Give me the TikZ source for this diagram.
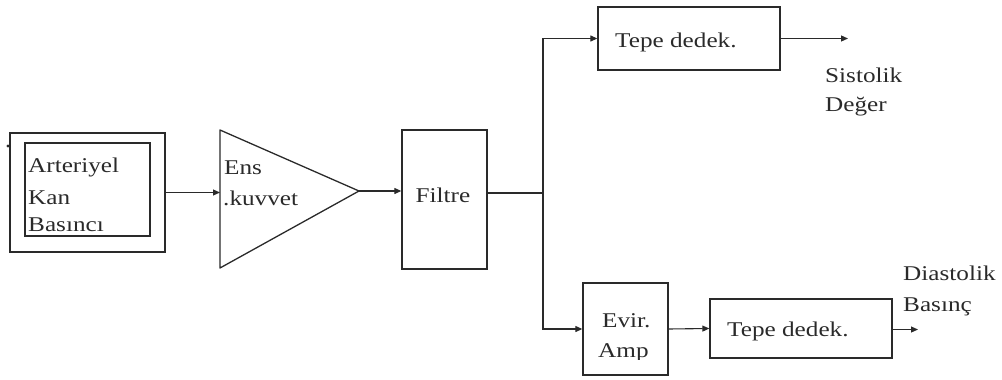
\documentclass[tikz,border=0pt]{standalone}
\usepackage{fontspec}
\setmainfont[FakeStretch=1.2]{Liberation Serif}
\usetikzlibrary{arrows.meta}
\definecolor{ink}{HTML}{2A2A2A}
\begin{document}
\begin{tikzpicture}[x=1pt,y=-1pt,
  blk/.style={draw=ink,line width=1.3pt,inner sep=0pt,rectangle},
  lbl/.style={anchor=base west,inner sep=0pt,text=ink,font=\fontsize{21}{32}\selectfont},
  wire/.style={draw=ink,line width=1.1pt},
  arr/.style={wire,-{Triangle[length=7pt,width=6pt]}}]
\useasboundingbox (0,0) rectangle (1002,380);

% input block: pressure source
\node[blk,minimum width=155pt,minimum height=119pt] (outer) at (87.5,192.5) {};
\node[blk,minimum width=125pt,minimum height=93pt] (inner) at (87.5,189.5) {};
\fill[ink] (8,146) circle (1.6pt);
\node[lbl] (t1) at (28,172) {Arteriyel};
\node[lbl] (t2) at (28,204) {Kan};
\begin{scope}
  \clip (25,143) rectangle (150,233);
  \node[lbl] (t3) at (28,231) {Basıncı};
\end{scope}

% instrumentation amplifier
\coordinate (ampin) at (220,192.5);
\coordinate (amptop) at (220,130);
\coordinate (ampbot) at (220,268);
\coordinate (amptip) at (359,191);
\draw[ink,line width=1.3pt,line join=round] (amptop) -- (amptip) -- (ampbot) -- cycle;
\node[lbl] (t4) at (224,174) {Ens};
\node[lbl] (t5) at (223,205) {.kuvvet};

% filter
\node[blk,minimum width=85pt,minimum height=139pt] (filt) at (444.5,199.5) {};
\node[lbl,anchor=base] (t6) at (443,202) {Filtre};

% upper branch: peak detector
\node[blk,minimum width=182pt,minimum height=63pt] (pk1) at (689,38.5) {};
\node[lbl] (t7) at (615,47) {Tepe dedek.};
\coordinate (out1) at (848,38.5);
\node[lbl] (t8) at (825,82) {Sistolik};
\node[lbl] (t9) at (825,111) {Değer};

% lower branch: inverting amplifier and peak detector
\node[blk,minimum width=85pt,minimum height=92pt] (inv) at (625.5,329) {};
\node[lbl] (t10) at (602,327) {Evir.};
\begin{scope}
  \clip (583,283) rectangle (668,359);
  \node[lbl] (t11) at (598,357) {Amp};
\end{scope}
\node[blk,minimum width=182pt,minimum height=59pt] (pk2) at (801,328.5) {};
\node[lbl] (t12) at (727,336) {Tepe dedek.};
\coordinate (out2) at (918,329.5);
\node[lbl] (t13) at (903,280) {Diastolik};
\node[lbl] (t14) at (903,311) {Basınç};

% signal path
\coordinate (split) at (543,193);
\draw[arr] (outer.east) -- (ampin);
\draw[arr] (amptip) -- (amptip -| filt.west);
\draw[wire] (split -| filt.east) -- (split);
\draw[arr] (split) |- (pk1.west);
\draw[arr] (split) |- (inv.west);
\draw[arr] (pk1.east) -- (out1);
\draw[arr] (inv.east) -- (pk2.west);
\draw[arr] (pk2.east |- out2) -- (out2);
\end{tikzpicture}
\end{document}
